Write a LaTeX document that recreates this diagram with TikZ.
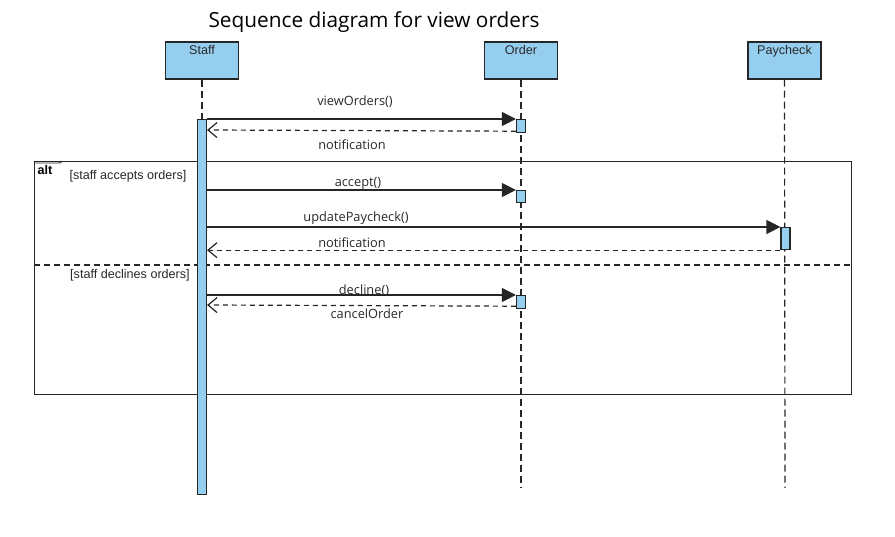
\documentclass[tikz,border=0pt]{standalone}
\usepackage{fontspec}
\setmainfont{Liberation Sans}
\newfontfamily\titlefont{Open Sans}
\usetikzlibrary{arrows.meta,positioning}
\definecolor{lifeblue}{RGB}{150,206,240}
\definecolor{inkgray}{RGB}{40,40,40}

\tikzset{
  head/.style={draw, fill=lifeblue, minimum width=73pt, minimum height=37pt, inner sep=0pt},
  actbar/.style={draw, fill=lifeblue, minimum width=9pt, inner sep=0pt},
  lifeline/.style={dash pattern=on 7pt off 4pt},
  call/.style={-{Triangle[length=14pt,width=14pt]}},
  reply/.style={dash pattern=on 5pt off 4pt, -{Straight Barb[length=9pt,width=15pt]}},
  msg/.style={font=\titlefont\fontsize{12.8}{14}\selectfont, text=inkgray},
  lbl/.style={font=\fontsize{12.6}{14}\selectfont, text=inkgray}
}

\begin{document}
\begin{tikzpicture}[x=1pt, y=-1pt, line width=1.2pt, draw=black!85]
	\useasboundingbox (0,0) rectangle (895,537);
	% title
	\node[font=\titlefont\fontsize{20.8}{24}\selectfont] (title) at (374,22) {Sequence diagram for view orders};
	% alt frame
	\node[draw, minimum width=817pt, minimum height=233pt, inner sep=0pt, anchor=north west] (altbox) at (34,161) {};
	\draw[line width=0.9pt] (34,163) -- (58,163) .. controls (61,163) .. (62,161);
	\node[font=\bfseries\fontsize{12.6}{14}\selectfont, anchor=west, inner sep=0pt] (alttag) at (37,170) {alt};
	\node[lbl] (guardA) at (128,176.5) {[staff accepts orders]};
	\node[lbl] (guardB) at (130,275.5) {[staff declines orders]};
	\draw[dash pattern=on 6pt off 4pt] (altbox.west |- 0,265) -- (altbox.east |- 0,265);
	% lifeline heads
	\node[head] (staff) at (202,60.5) {};
	\node[head] (order) at (521,60.5) {};
	\node[head] (pay) at (784.5,60.5) {};
	\node[lbl, below=0.5pt of staff.north] {Staff};
	\node[lbl, below=0.5pt of order.north] {Order};
	\node[lbl, below=0.5pt of pay.north] {Paycheck};
	% lifelines
	\coordinate (staffend) at (202,494);
	\coordinate (orderend) at (521,488);
	\coordinate (payend) at (785,488);
	\draw[lifeline] (staff.south) -- (staffend);
	\draw[lifeline] (order.south) -- (orderend);
	\draw[lifeline] (pay.south) -- (payend);
	% activation bars
	\node[actbar, minimum height=375pt, anchor=north] (staffbar) at (202,119) {};
	\node[actbar, minimum height=13pt, anchor=north] (ordbarA) at (521,119) {};
	\node[actbar, minimum height=12pt, anchor=north] (ordbarB) at (521,190) {};
	\node[actbar, minimum height=22pt, anchor=north] (paybar) at (785.5,227) {};
	\node[actbar, minimum height=13pt, anchor=north] (ordbarC) at (521,295) {};
	% messages
	\draw[call] (staffbar.east |- ordbarA.north west) -- (ordbarA.north west);
	\draw[reply] ([yshift=2pt]ordbarA.south west) -- (staffbar.east |- 0,130);
	\draw[call] (staffbar.east |- ordbarB.north west) -- (ordbarB.north west);
	\draw[call] (staffbar.east |- paybar.north west) -- (paybar.north west);
	\draw[reply] (paybar.south west) -- (staffbar.east |- paybar.south west);
	\draw[call] (staffbar.east |- ordbarC.north west) -- (ordbarC.north west);
	\draw[reply] ([yshift=3pt]ordbarC.south west) -- (staffbar.east |- 0,305);
	% message labels
	\node[msg] at (355,101.5) {viewOrders()};
	\node[msg] at (352,144.5) {notification};
	\node[msg] at (358,183.5) {accept()};
	\node[msg] at (356,218.5) {updatePaycheck()};
	\node[msg] at (352,242.5) {notification};
	\node[msg] at (364,290.5) {decline()};
	\node[msg] at (367,313.5) {cancelOrder};
\end{tikzpicture}
\end{document}
